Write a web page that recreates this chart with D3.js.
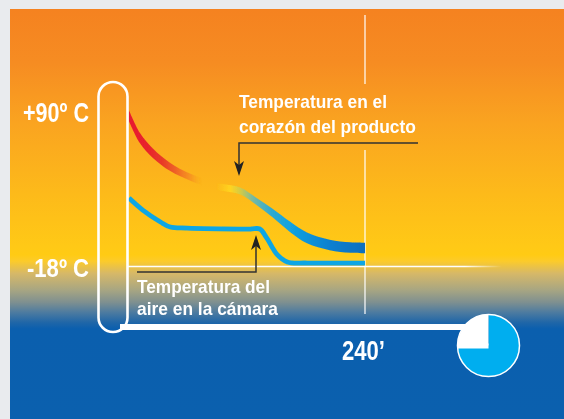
<!DOCTYPE html>
<html><head><meta charset="utf-8">
<script src="https://cdn.jsdelivr.net/npm/d3@7"></script>
<style>html,body{margin:0;padding:0;background:#e9ebee;overflow:hidden}svg{display:block}
text{font-family:"Liberation Sans",Arial,sans-serif;font-weight:700;fill:#fff}</style>
</head><body><svg id="c" width="564" height="419"></svg>
<script>
// Data (minutes after start, temperature in deg C)
const productMinutes = [0, 11, 24, 42, 62, 87, 113, 129, 146, 164, 181, 204, 225, 240];
const productTemp    = [88, 72.4, 61.8, 51.9, 44.8, 38.5, 35, 27.9, 19.4, 9.5, 1.8, -3.2, -5, -5.3];
const airMinutes = [0, 14, 32, 42, 59, 123, 133, 140, 151, 161, 181, 240];
const airTemp    = [30, 21.5, 13.1, 9.5, 8.8, 8.1, 8.1, 1.8, -10.2, -15.2, -15.9, -15.9];
const tempLabels = ["+90º C", "-18º C"];
const timeLabel = "240’";
const dialShare = [270, 90];
const productLabel = ["Temperatura en el", "corazón del producto"];
const airLabel = ["Temperatura del", "aire en la cámara"];

const svg = d3.select("#c");
const x = d3.scaleLinear().domain([0, 240]).range([129, 365]);
const y = d3.scaleLinear().domain([-18, 90]).range([266, 113]);
const bandWidth = d3.scaleLinear().domain([0, 30, 60, 130, 170, 205, 240]).range([11, 9, 7, 7, 11, 10.5, 10.5]);

const defs = svg.append("defs");
function grad(id, stops, attrs) {
  const g = defs.append("linearGradient").attr("id", id).attr("gradientUnits", "userSpaceOnUse");
  Object.entries(attrs).forEach(([k, v]) => g.attr(k, v));
  stops.forEach(s => g.append("stop").attr("offset", s[0]).attr("stop-color", s[1]).attr("stop-opacity", s[2] === undefined ? 1 : s[2]));
}
grad("bg", [[0,"#f58220"],[0.13,"#f68c22"],[0.28,"#faa420"],[0.45,"#fdba1a"],[0.58,"#ffc916"],[0.6,"#ffcb14"],
  [0.615,"#fccb2a"],[0.645,"#d6b868"],[0.685,"#a8a682"],[0.715,"#7f9090"],[0.74,"#4d7ba0"],[0.765,"#1f66a8"],[0.78,"#0b5fae"],[1,"#0b60ae"]],
  {x1:0,y1:9,x2:0,y2:419});
grad("prod", [[0,"#e81e30"],[0.07,"#e8202c"],[0.14,"#e83a28"],[0.2,"#ee6026",0.95],[0.26,"#f48024",0.6],[0.31,"#f8a020",0],
  [0.37,"#ffd820",0],[0.43,"#ffd820",0.85],[0.48,"#c8c850"],[0.53,"#70b8a8"],[0.6,"#30aad0"],[0.68,"#12a3e0"],[0.85,"#0b80d0"],[1,"#0e6fbe"]],
  {x1:x(0),y1:0,x2:x(240),y2:0});
grad("fadeH", [[0,"#fff"],[0.9,"#fff"],[1,"#fff",0]], {x1:128,y1:0,x2:502,y2:0});
defs.append("filter").attr("id","soft").append("feGaussianBlur").attr("stdDeviation",0.55);

svg.append("rect").attr("x",10).attr("y",9).attr("width",554).attr("height",410).attr("fill","url(#bg)");
const g = svg.append("g").attr("filter","url(#soft)");

// reference lines
g.append("line").attr("x1",128).attr("x2",502).attr("y1",y(-18)+0.5).attr("y2",y(-18)+0.5)
  .attr("stroke","url(#fadeH)").attr("stroke-width",1.5);
g.append("line").attr("x1",x(240)).attr("x2",x(240)).attr("y1",15).attr("y2",84).attr("stroke","#fff").attr("stroke-opacity",.85).attr("stroke-width",1.4);
g.append("line").attr("x1",x(240)).attr("x2",x(240)).attr("y1",150).attr("y2",314).attr("stroke","#fff").attr("stroke-opacity",.85).attr("stroke-width",1.4);

// product curve
const pts = productMinutes.map((m, i) => [m, productTemp[i]]);
g.append("path").datum(pts).attr("fill","url(#prod)")
  .attr("d", d3.area().curve(d3.curveCatmullRom).x(d => x(d[0]))
    .y0(d => y(d[1]) - bandWidth(d[0]) / 2).y1(d => y(d[1]) + bandWidth(d[0]) / 2));

// air curve
g.append("path").datum(airMinutes.map((m, i) => [m, airTemp[i]])).attr("fill","none")
  .attr("stroke","#0fa6e4").attr("stroke-width",4.8)
  .attr("d", d3.line().curve(d3.curveCatmullRom).x(d => x(d[0])).y(d => y(d[1])));

// thermometer and time bar
g.append("line").attr("x1",120).attr("x2",470).attr("y1",327).attr("y2",327).attr("stroke","#fff").attr("stroke-width",6);
g.append("rect").attr("x",98.5).attr("y",82).attr("width",29).attr("height",250).attr("rx",14.5)
  .attr("fill","none").attr("stroke","#fff").attr("stroke-width",2.6);

// dial
const dial = g.append("g").attr("transform","translate(488.5,345.5)");
const arc = d3.arc().innerRadius(0).outerRadius(31);
dial.selectAll("path").data(d3.pie().sort(null)(dialShare)).join("path").attr("d",arc)
  .attr("fill",(d,i)=>i===0?"#00aeef":"#fff");
dial.append("circle").attr("r",31).attr("fill","none").attr("stroke","#fff").attr("stroke-width",1.5);
dial.append("rect").attr("x",-31).attr("y",-2).attr("width",31).attr("height",5).attr("fill","#fff");

// arrows
const arrow = (pts) => {
  g.append("path").attr("d", d3.line()(pts)).attr("fill","none").attr("stroke","#333").attr("stroke-width",1.5);
};
const head = (tx, ty, dir) => {
  const p = d3.path();
  p.moveTo(tx, ty); p.lineTo(tx - 5, ty - dir * 15); p.lineTo(tx, ty - dir * 11); p.lineTo(tx + 5, ty - dir * 15); p.closePath();
  g.append("path").attr("d", p.toString()).attr("fill","#222");
};
arrow([[418,143],[239,143],[239,165]]); head(239,176,1);
arrow([[137,272],[256,272],[256,245]]); head(256,235,-1);

// text
const label = (s, tx, ty, w, fs) => g.append("text").attr("x",tx).attr("y",ty).attr("font-size",fs)
  .attr("textLength",w).attr("lengthAdjust","spacingAndGlyphs").text(s);
label(tempLabels[0], 23, 122, 66, 27);
label(tempLabels[1], 27, 277, 62, 26);
label(productLabel[0], 239, 108, 148, 19);
label(productLabel[1], 239, 133, 177, 19);
label(airLabel[0], 137, 293, 133, 19);
label(airLabel[1], 137, 315, 141, 19);
label(timeLabel, 342, 360, 43, 27);
</script></body></html>
